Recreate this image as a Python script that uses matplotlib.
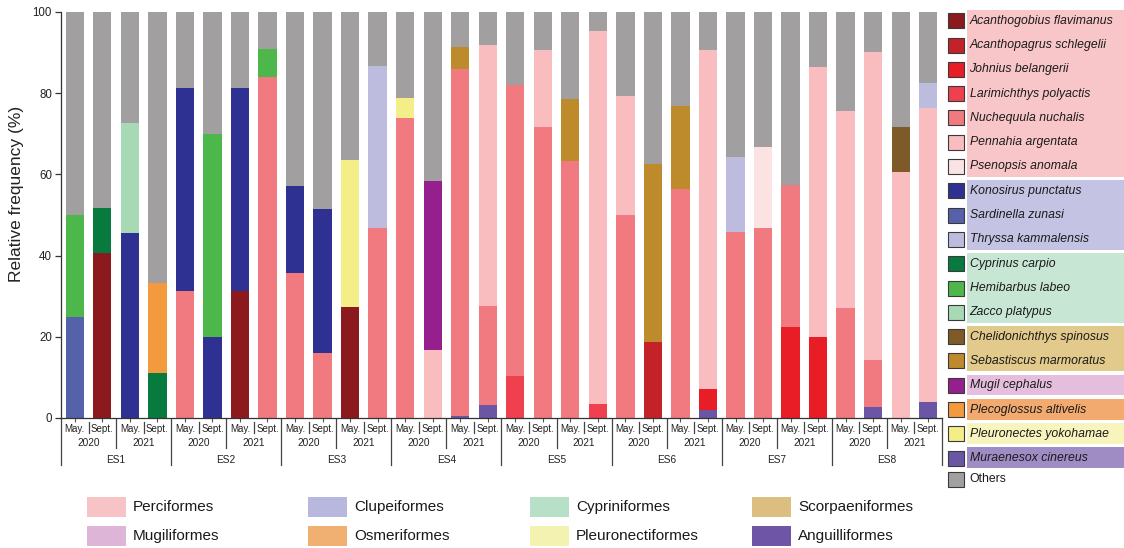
import matplotlib
matplotlib.use("Agg")
import matplotlib.pyplot as plt
from matplotlib import transforms
from matplotlib.patches import Rectangle
from matplotlib.lines import Line2D
import numpy as np

plt.rcParams["font.family"] = ["Liberation Sans", "DejaVu Sans"]

# ---- sampling design -------------------------------------------------------
sites = ["ES1", "ES2", "ES3", "ES4", "ES5", "ES6", "ES7", "ES8"]
years = ["2020", "2021"]
months = ["May.", "Sept."]

# ---- relative frequency (%) of each species per sample ---------------------
# 32 samples: for each site -> 2020 May, 2020 Sept, 2021 May, 2021 Sept
acanthogobius = [0, 40.7, 0, 0,  0, 0, 31.2, 0,  0, 0, 27.3, 0,  0, 0, 0, 0,
                 0, 0, 0, 0,  0, 0, 0, 0,  0, 0, 0, 0,  0, 0, 0, 0]
acanthopagrus = [0, 0, 0, 0,  0, 0, 0, 0,  0, 0, 0, 0,  0, 0, 0, 0,
                 0, 0, 0, 0,  0, 18.8, 0, 0,  0, 0, 0, 0,  0, 0, 0, 0]
johnius = [0, 0, 0, 0,  0, 0, 0, 0,  0, 0, 0, 0,  0, 0, 0, 0,
           0, 0, 0, 0,  0, 0, 0, 5.1,  0, 0, 22.4, 20.0,  0, 0, 0, 0]
larimichthys = [0, 0, 0, 0,  0, 0, 0, 0,  0, 0, 0, 0,  0, 0, 0, 0,
                10.3, 0, 0, 3.4,  0, 0, 0, 0,  0, 0, 0, 0,  0, 0, 0, 0]
nuchequula = [0, 0, 0, 0,  31.2, 0, 0, 84.0,  35.7, 16.1, 0, 46.7,  73.9, 0, 85.6, 24.2,
              71.8, 71.7, 63.3, 0,  50.0, 0, 56.4, 0,  45.8, 46.7, 34.9, 0,  27.0, 11.6, 0, 0]
pennahia = [0, 0, 0, 0,  0, 0, 0, 0,  0, 0, 0, 0,  0, 16.7, 0, 64.4,
            0, 18.9, 0, 91.8,  29.3, 0, 0, 83.5,  0, 0, 0, 66.5,  48.6, 75.9, 60.5, 72.3]
psenopsis = [0, 0, 0, 0,  0, 0, 0, 0,  0, 0, 0, 0,  0, 0, 0, 0,
             0, 0, 0, 0,  0, 0, 0, 0,  0, 20.0, 0, 0,  0, 0, 0, 0]
konosirus = [0, 0, 45.5, 0,  50.0, 20.0, 50.0, 0,  21.4, 35.5, 0, 0,  0, 0, 0, 0,
             0, 0, 0, 0,  0, 0, 0, 0,  0, 0, 0, 0,  0, 0, 0, 0]
sardinella = [25.0, 0, 0, 0,  0, 0, 0, 0,  0, 0, 0, 0,  0, 0, 0, 0,
              0, 0, 0, 0,  0, 0, 0, 0,  0, 0, 0, 0,  0, 0, 0, 0]
thryssa = [0, 0, 0, 0,  0, 0, 0, 0,  0, 0, 0, 40.0,  0, 0, 0, 0,
           0, 0, 0, 0,  0, 0, 0, 0,  18.4, 0, 0, 0,  0, 0, 0, 6.1]
cyprinus = [0, 11.1, 0, 11.1,  0, 0, 0, 0,  0, 0, 0, 0,  0, 0, 0, 0,
            0, 0, 0, 0,  0, 0, 0, 0,  0, 0, 0, 0,  0, 0, 0, 0]
hemibarbus = [25.0, 0, 0, 0,  0, 50.0, 0, 6.9,  0, 0, 0, 0,  0, 0, 0, 0,
              0, 0, 0, 0,  0, 0, 0, 0,  0, 0, 0, 0,  0, 0, 0, 0]
zacco = [0, 0, 27.2, 0,  0, 0, 0, 0,  0, 0, 0, 0,  0, 0, 0, 0,
         0, 0, 0, 0,  0, 0, 0, 0,  0, 0, 0, 0,  0, 0, 0, 0]
chelidonichthys = [0, 0, 0, 0,  0, 0, 0, 0,  0, 0, 0, 0,  0, 0, 0, 0,
                   0, 0, 0, 0,  0, 0, 0, 0,  0, 0, 0, 0,  0, 0, 11.1, 0]
sebastiscus = [0, 0, 0, 0,  0, 0, 0, 0,  0, 0, 0, 0,  0, 0, 5.5, 0,
               0, 0, 15.2, 0,  0, 43.7, 20.4, 0,  0, 0, 0, 0,  0, 0, 0, 0]
mugil = [0, 0, 0, 0,  0, 0, 0, 0,  0, 0, 0, 0,  0, 41.6, 0, 0,
         0, 0, 0, 0,  0, 0, 0, 0,  0, 0, 0, 0,  0, 0, 0, 0]
plecoglossus = [0, 0, 0, 22.2,  0, 0, 0, 0,  0, 0, 0, 0,  0, 0, 0, 0,
                0, 0, 0, 0,  0, 0, 0, 0,  0, 0, 0, 0,  0, 0, 0, 0]
pleuronectes = [0, 0, 0, 0,  0, 0, 0, 0,  0, 0, 36.3, 0,  5.0, 0, 0, 0,
                0, 0, 0, 0,  0, 0, 0, 0,  0, 0, 0, 0,  0, 0, 0, 0]
muraenesox = [0, 0, 0, 0,  0, 0, 0, 0,  0, 0, 0, 0,  0, 0, 0.4, 3.3,
              0, 0, 0, 0,  0, 0, 0, 2.0,  0, 0, 0, 0,  0, 2.7, 0, 4.0]

species_names = [
    "Acanthogobius flavimanus", "Acanthopagrus schlegelii", "Johnius belangerii",
    "Larimichthys polyactis", "Nuchequula nuchalis", "Pennahia argentata",
    "Psenopsis anomala", "Konosirus punctatus", "Sardinella zunasi",
    "Thryssa kammalensis", "Cyprinus carpio", "Hemibarbus labeo", "Zacco platypus",
    "Chelidonichthys spinosus", "Sebastiscus marmoratus", "Mugil cephalus",
    "Plecoglossus altivelis", "Pleuronectes yokohamae", "Muraenesox cinereus",
]
species_values = [
    acanthogobius, acanthopagrus, johnius, larimichthys, nuchequula, pennahia,
    psenopsis, konosirus, sardinella, thryssa, cyprinus, hemibarbus, zacco,
    chelidonichthys, sebastiscus, mugil, plecoglossus, pleuronectes, muraenesox,
]
species_colors = [
    "#8A1A1E", "#C42229", "#E81D25", "#EE404F", "#F07A7F", "#F9BDBF", "#FCE3E3",
    "#2E3192", "#5562AA", "#BDBCDE", "#087A3E", "#4DB74B", "#A8D9B5",
    "#7D5A28", "#BD8A2C", "#941F8D", "#F3993E", "#F4EE88", "#6B55A5",
]
others_color = "#A19FA0"

orders = ["Perciformes", "Clupeiformes", "Cypriniformes", "Scorpaeniformes",
          "Mugiliformes", "Osmeriformes", "Pleuronectiformes", "Anguilliformes"]
order_sizes = [7, 3, 3, 2, 1, 1, 1, 1]          # species per order, legend order
order_box_colors = ["#F8C6C8", "#C4C3E3", "#C8E6D4", "#E2C98C",
                    "#E6BEDD", "#F2AA6E", "#F7F4BE", "#A08CC4"]
order_swatch_colors = ["#F8C3C6", "#B8B7DE", "#B8E0C8", "#DBBE80",
                       "#DDB5D6", "#F0B072", "#F4F2B0", "#6E55A5"]

# ---- figure ------------------------------------------------------------------
W, H = 1124, 548
fig = plt.figure(figsize=(W / 100, H / 100), dpi=100)

ax = fig.add_axes([61 / W, 130 / H, (942 - 61) / W, 406 / H])
n = len(acanthogobius)
x = np.arange(n)
bar_w = 0.665

# eels sit at the base of each stack, the rest follow the legend order
stack = [18] + list(range(18))
bottom = np.zeros(n)
for k in stack:
    v = np.array(species_values[k], dtype=float)
    ax.bar(x, v, bar_w, bottom=bottom, color=species_colors[k], linewidth=0, zorder=2)
    bottom += v
others = 100 - bottom
ax.bar(x, others, bar_w, bottom=bottom, color=others_color, linewidth=0, zorder=2)

ax.set_xlim(-0.5, n - 0.5)
ax.set_ylim(0, 100)
for s in ["top", "right"]:
    ax.spines[s].set_visible(False)
for s in ["left", "bottom"]:
    ax.spines[s].set_color("#333333")
    ax.spines[s].set_linewidth(0.9)
ax.set_yticks([0, 20, 40, 60, 80, 100])
ax.tick_params(axis="y", direction="out", length=4, width=0.9, color="#333333",
               labelsize=8.3, pad=2.5, labelcolor="#222222")
ax.set_xticks(x)
ax.set_xticklabels([])
ax.tick_params(axis="x", direction="out", length=3, width=0.8, color="#555555")

# overlay in pixel coordinates for labels and legends
ov = fig.add_axes([0, 0, 1, 1], zorder=-1)
ov.set_xlim(0, W)
ov.set_ylim(H, 0)
ov.axis("off")

fig.text(17 / W, 1 - 193.5 / H, "Relative frequency (%)", rotation=90,
         ha="center", va="center", fontsize=12.5, color="#222222")

# hierarchical category axis: month / year / site
bt = transforms.blended_transform_factory(ax.transData, ov.transData)
line_kw = dict(color="#444444", lw=0.9, transform=bt, clip_on=False)
for i in range(n):
    ov.text(i, 428.5, months[i % 2], transform=bt, ha="center", va="center",
            fontsize=7, color="#222222")
for j in range(n // 2):
    ov.text(2 * j + 0.5, 443.5, years[j % 2], transform=bt, ha="center",
            va="center", fontsize=7.3, color="#222222")
    ov.add_line(Line2D([2 * j + 0.5, 2 * j + 0.5], [421.5, 433], **line_kw))
for j in range(n // 4):
    ov.add_line(Line2D([4 * j + 1.5, 4 * j + 1.5], [418, 448], **line_kw))
for j, site in enumerate(sites):
    ov.text(4 * j + 1.5, 460, site, transform=bt, ha="center", va="center",
            fontsize=7.3, color="#222222")
for j in range(len(sites) + 1):
    ov.add_line(Line2D([4 * j - 0.5, 4 * j - 0.5], [418, 465], **line_kw))

# species legend grouped by order
row0, step = 20.7, 24.3
start = 0
for g, size in enumerate(order_sizes):
    y_top = row0 + step * start - 10.7
    y_bot = row0 + step * (start + size - 1) + 10.2
    ov.add_patch(Rectangle((967, y_top), W - 967, y_bot - y_top,
                           facecolor=order_box_colors[g], edgecolor="none"))
    start += size
for k, name in enumerate(species_names):
    yc = row0 + step * k
    ov.add_patch(Rectangle((948, yc - 7.5), 16, 15, facecolor=species_colors[k],
                           edgecolor="#3a3a3a", lw=0.8))
    ov.text(969.5, yc, name, style="italic", fontsize=8.8, ha="left",
            va="center", color="#1a1a1a")
y_oth = 479
ov.add_patch(Rectangle((948, y_oth - 7.5), 16, 15, facecolor=others_color,
                       edgecolor="#3a3a3a", lw=0.8))
ov.text(969.5, y_oth, "Others", fontsize=8.8, ha="left", va="center",
        color="#1a1a1a")

# order legend below the chart
col_x = [87, 308, 530, 752]
row_y = [507, 536]
for g, name in enumerate(orders):
    cx = col_x[g % 4]
    cy = row_y[g // 4]
    ov.add_patch(Rectangle((cx, cy - 9.8), 39, 19.5, facecolor=order_swatch_colors[g],
                           edgecolor="none"))
    ov.text(cx + 46, cy, name, fontsize=11, ha="left", va="center", color="#1a1a1a")

fig.savefig("out.png", dpi=100)
